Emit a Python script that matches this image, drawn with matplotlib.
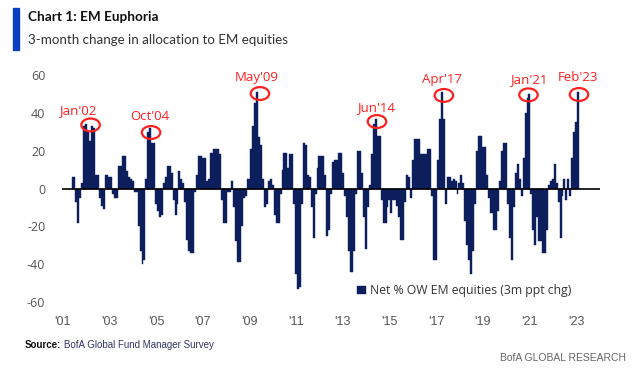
import matplotlib
matplotlib.use('Agg')
import matplotlib.pyplot as plt
from matplotlib.patches import Ellipse, Rectangle

# month index counted from Jan 2001; first bar is Jun 2001
start_month = 5
values = [
    6, 6, -7, -18, -5, 3, 33, 34, 30, 25, 33, 32, 7, 7, -5, -9, -11, 7, 7, 6,
    6, -3, -5, -5, 12, 12, 17, 17, 9, 6, 5, 4, -2, -2, -20, -33, -40, -38, 5, 30,
    32, 24, 24, -8, -12, -15, -14, 3, 6, 12, 12, 8, -6, -14, -8, 9, 5, 3, -7, -27,
    -33, -34, -34, -2, 7, 17, 17, 16, 16, 4, 5, 19, 19, 21, 21, 21, 18, -6, -18, -18,
    -2, -2, 4, -10, -28, -39, -39, -20, -5, -4, 5, 5, 21, 33, 45, 51, 27, 23, 5, -10,
    -8, 4, 5, 2, -14, -18, -18, -3, 10, 19, 19, 11, 18, 18, -8, -45, -53, -52, -8, 24,
    23, 7, 6, -10, -26, -3, 11, 17, 17, 17, 7, -25, -22, -3, 14, 15, 15, 19, 19, 8,
    -4, -15, -33, -44, -44, -33, -3, 20, 20, 8, -15, -32, -10, 2, 18, 34, 37, 28, 28, -6,
    -18, -18, -10, -6, -13, -6, -6, -9, -15, -27, -27, -7, 7, 6, -5, 15, 26, 26, 26, 18,
    18, 18, 18, 21, 21, -4, -38, -38, 15, 37, 51, 37, -8, 6, 6, 4, 5, 4, -3, 3,
    7, 3, -17, -30, -38, -45, -33, -8, 20, 28, 28, 22, 22, 7, -5, -13, -13, -22, -22, -12,
    4, 20, 24, 24, -8, -26, -38, -10, 8, 13, 5, -4, 16, 40, 48, 50, -3, -22, -30, -15,
    -28, -28, -34, -34, -22, 2, 4, 5, 13, 3, -7, -26, -4, 5, -6, 5, -4, 16, 30, 35,
    51,
]
months = list(range(start_month, start_month + len(values)))

year_ticks = list(range(0, 265, 24))
year_labels = ["'01", "'03", "'05", "'07", "'09", "'11", "'13", "'15", "'17", "'19", "'21", "'23"]

# peak call-outs: label, month index, circle centre value, label value
peak_names = ["Jan'02", "Oct'04", "May'09", "Jun'14", "Apr'17", "Jan'21", "Feb'23"]
peak_months = [14.3, 45.4, 101.4, 161.6, 196, 239.5, 265.5]
peak_circle = [33.6, 29.6, 50.2, 35.4, 49.2, 49.5, 49.7]
peak_label_x = [7.9, 45, 100, 161, 195, 239.5, 265]
peak_label_y = [41, 38, 58.5, 43, 57.4, 57.4, 58.8]

navy = '#0c1f5c'
red = '#ff2020'
narrow = 'Liberation Sans'

fig = plt.figure(figsize=(6.39, 3.76), dpi=100)
ax = fig.add_axes([62 / 639, 1 - 302 / 376, 538 / 639, 227 / 376])

ax.bar(months, values, width=1.0, color=navy, edgecolor=navy, linewidth=0.3,
       label='Net % OW EM equities (3m ppt chg)')
ax.axhline(0, color='black', linewidth=1.2)

ax.set_xlim(-0.4, 276.3)
ax.set_ylim(-60, 60)
ax.set_yticks([60, 40, 20, 0, -20, -40, -60])
ax.set_yticklabels(['60', '40', '20', '0', '-20', '-40', '-60'], family='Open Sans')
ax.set_xticks(year_ticks)
ax.set_xticklabels(year_labels, family=narrow)
ax.tick_params(axis='y', length=0, pad=12, labelsize=9, labelcolor='#555555')
ax.tick_params(axis='x', length=0, pad=10, labelsize=9, labelcolor='#555555')
for s in ax.spines.values():
    s.set_visible(False)

for name, m, cv, lx, ly in zip(peak_names, peak_months, peak_circle, peak_label_x, peak_label_y):
    ax.add_patch(Ellipse((m, cv), 9.5, 6.8, fill=False, edgecolor=red, linewidth=1.6, clip_on=False))
    ax.text(lx, ly, name, color=red, fontsize=9.5, ha='center', va='center', family='Open Sans')

leg = ax.legend(loc='lower right', bbox_to_anchor=(0.955, 0.0), frameon=False,
                handlelength=0.7, handleheight=0.7, handletextpad=0.3, borderaxespad=0,
                prop={'family': 'Open Sans', 'size': 8.8})
for t in leg.get_texts():
    t.set_color('#333333')

# header
fig.patches.append(Rectangle((13 / 639, 1 - 50 / 376), 6 / 639, 42 / 376,
                             transform=fig.transFigure, color='#0a3fc2', zorder=5))
fig.text(28 / 639, 1 - 17 / 376, 'Chart 1: EM Euphoria', fontsize=9.8, fontweight='bold',
         family='Lato', color='#111111', va='center')
fig.text(28 / 639, 1 - 40 / 376, '3-month change in allocation to EM equities', fontsize=9.6,
         family='Lato', color='#333333', va='center')

# footer
fig.text(25 / 639, 1 - 345 / 376, 'Source:', fontsize=7, fontweight='bold',
         family=narrow, color='#111111', va='center')
fig.text(64 / 639, 1 - 345 / 376, 'BofA Global Fund Manager Survey', fontsize=7,
         family=narrow, color='#333366', va='center')
fig.text(626 / 639, 1 - 358 / 376, 'BofA GLOBAL RESEARCH', fontsize=7.5,
         family=narrow, color='#666666', va='center', ha='right')

fig.savefig('out.png', dpi=100)
